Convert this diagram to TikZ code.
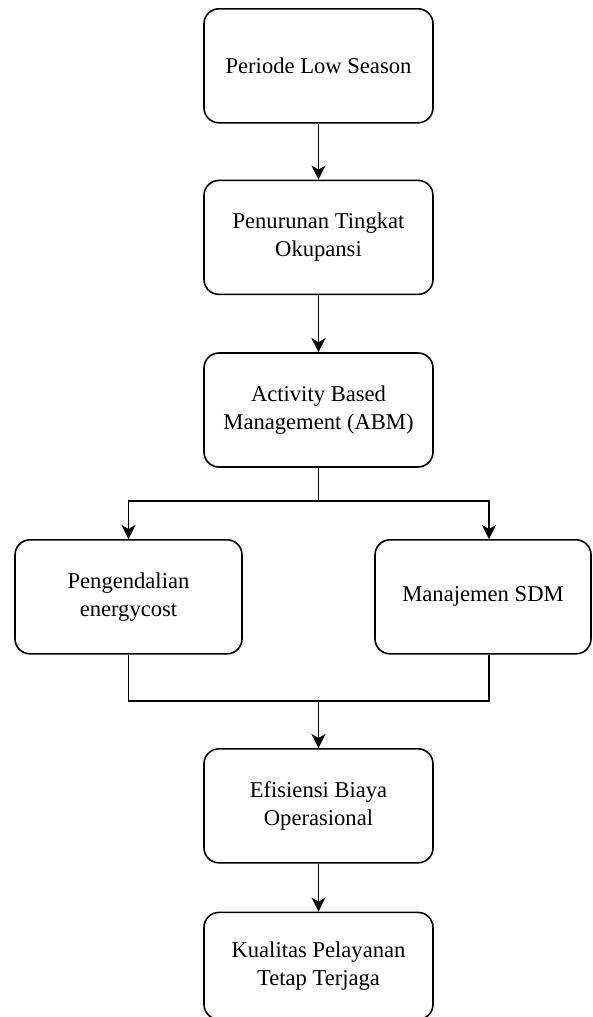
\documentclass[tikz,border=0pt]{standalone}
\usepackage{fontspec}
\setmainfont{Liberation Serif}
\usetikzlibrary{arrows.meta,positioning,calc}

\tikzset{
  stepbox/.style={draw,rectangle,rounded corners=7.5pt,line width=0.8pt,fill=white,
    minimum width=114.5pt,minimum height=57pt,align=center,
    font=\fontsize{11.3pt}{14pt}\selectfont},
  link/.style={line width=0.8pt},
  flow/.style={link,-{Stealth[length=7pt,width=7pt,inset=2pt]}}
}

\begin{document}
\begin{tikzpicture}[node distance=28pt]
				
				\useasboundingbox (0,0) rectangle (296.5pt,-508.5pt);
				
				% main chain
				\node[stepbox,anchor=north] (low) at (159.25pt,-4pt) {Periode Low Season};
				\node[stepbox,below=of low] (okupansi) {Penurunan Tingkat\\Okupansi};
				\node[stepbox,below=28.5pt of okupansi] (abm) {Activity Based\\Management (ABM)};
				
				% two branches
				\node[stepbox,anchor=north,minimum width=113.5pt] (energy) at (64.25pt,-269.5pt) {Pengendalian\\energycost};
				\node[stepbox,anchor=north,minimum width=108pt] (sdm) at (241.5pt,-269.5pt) {Manajemen SDM};
				\coordinate (sdmin) at ($(sdm.north)+(3pt,0)$);
				\coordinate (sdmout) at ($(sdm.south)+(3pt,0)$);
				
				% result
				\node[stepbox,anchor=north] (efisiensi) at (159.25pt,-374pt) {Efisiensi Biaya\\Operasional};
				\node[stepbox,below=24pt of efisiensi,minimum height=53.5pt] (kualitas) {Kualitas Pelayanan\\Tetap Terjaga};
				
				% connectors
				\coordinate (split) at ($(abm.south |- 0,-250.5pt)$);
				\coordinate (merge) at ($(efisiensi.north |- 0,-350.5pt)$);
				\draw[flow] (low) -- (okupansi);
				\draw[flow] (okupansi) -- (abm);
				\draw[link] (abm.south) -- (split);
				\draw[flow] (split) -| (energy.north);
				\draw[flow] (split) -| (sdmin);
				\draw[link] (energy.south) |- (merge);
				\draw[link] (sdmout) |- (merge);
				\draw[flow] (merge) -- (efisiensi);
				\draw[flow] (efisiensi) -- (kualitas);
				
			\end{tikzpicture}
\end{document}
